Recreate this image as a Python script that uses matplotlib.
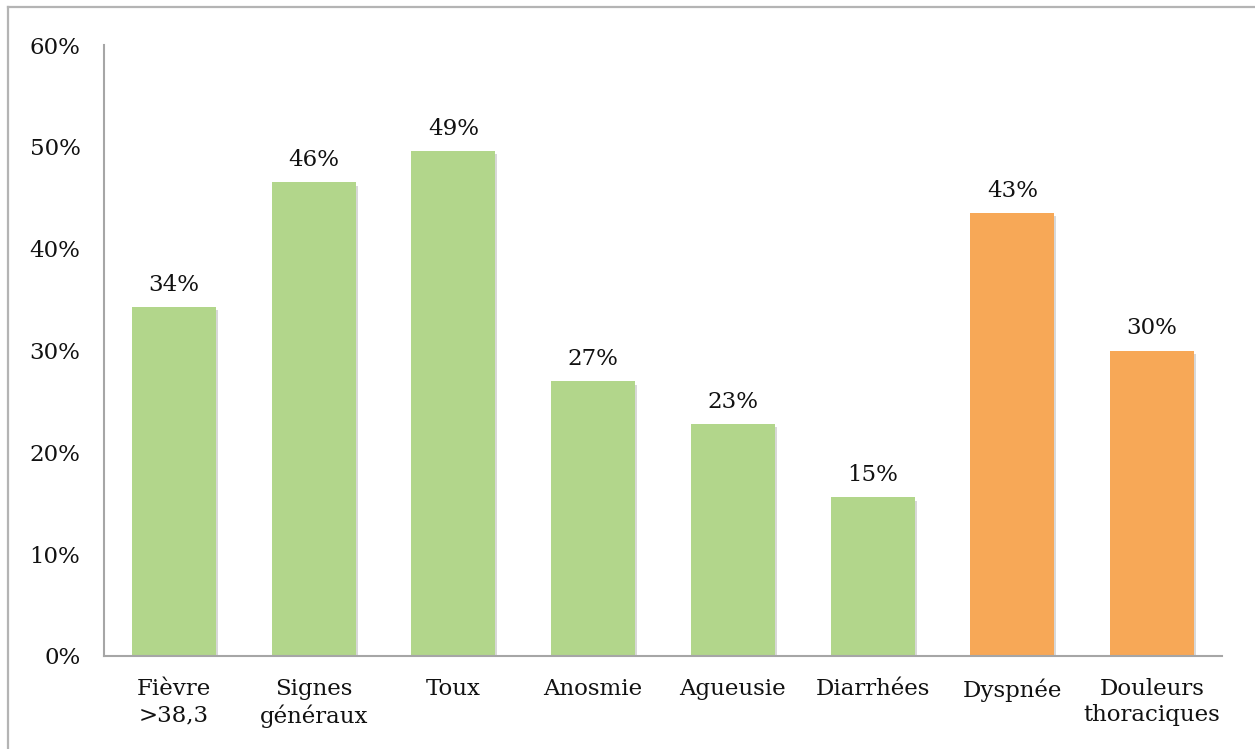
import matplotlib
matplotlib.use('Agg')
import matplotlib.pyplot as plt
from matplotlib import patheffects as pe
from matplotlib.ticker import FuncFormatter

categories = ['Fièvre\n>38,3', 'Signes\ngénéraux', 'Toux', 'Anosmie', 'Agueusie', 'Diarrhées', 'Dyspnée', 'Douleurs\nthoraciques']
values = [0.343, 0.465, 0.496, 0.270, 0.228, 0.156, 0.435, 0.300]
value_labels = ['34%', '46%', '49%', '27%', '23%', '15%', '43%', '30%']
bar_colors = ['#B2D68B'] * 6 + ['#F7A857'] * 2

plt.rcParams['font.family'] = ['DejaVu Serif']
FS = 16.5
fig = plt.figure(figsize=(12.55, 7.49), dpi=100)
W, H = 1255, 749
ax = fig.add_axes([104 / W, 1 - 656 / H, (1222 - 104) / W, (656 - 45) / H])

x = range(len(categories))
bars = ax.bar(x, values, width=0.6, color=bar_colors, zorder=2)
for b in bars:
    b.set_path_effects([pe.SimplePatchShadow(offset=(1.5, -2.5), shadow_rgbFace='#808080', alpha=0.3), pe.Normal()])
for b, lab in zip(bars, value_labels):
    ax.annotate(lab, (b.get_x() + b.get_width() / 2, b.get_height()), xytext=(0, 8), textcoords='offset points',
                ha='center', va='bottom', fontsize=FS, color='#111111')

ax.set_xlim(-0.5, len(categories) - 0.5)
ax.set_ylim(0, 0.6)
ax.set_yticks([i / 10 for i in range(7)])
ax.yaxis.set_major_formatter(FuncFormatter(lambda v, _: f'{v * 100:.0f}%'))
ax.set_xticks(list(x))
ax.set_xticklabels(categories, fontsize=FS, color='#111111', linespacing=1.25)
ax.tick_params(axis='y', length=0, pad=17, labelsize=FS, labelcolor='#111111')
ax.tick_params(axis='x', length=0, pad=16)
for s in ['top', 'right']:
    ax.spines[s].set_visible(False)
for s in ['left', 'bottom']:
    ax.spines[s].set_color('#A6A6A6')
    ax.spines[s].set_linewidth(1.5)

# outer chart-area border (right and bottom run off the image)
fig.add_artist(plt.Line2D([8 / W, 8 / W], [0, 1 - 7 / H], color='#B4B4B4', linewidth=1.6, transform=fig.transFigure))
fig.add_artist(plt.Line2D([8 / W, 1], [1 - 7 / H, 1 - 7 / H], color='#B4B4B4', linewidth=1.6, transform=fig.transFigure))

fig.savefig('out.png', dpi=100, facecolor='white')
